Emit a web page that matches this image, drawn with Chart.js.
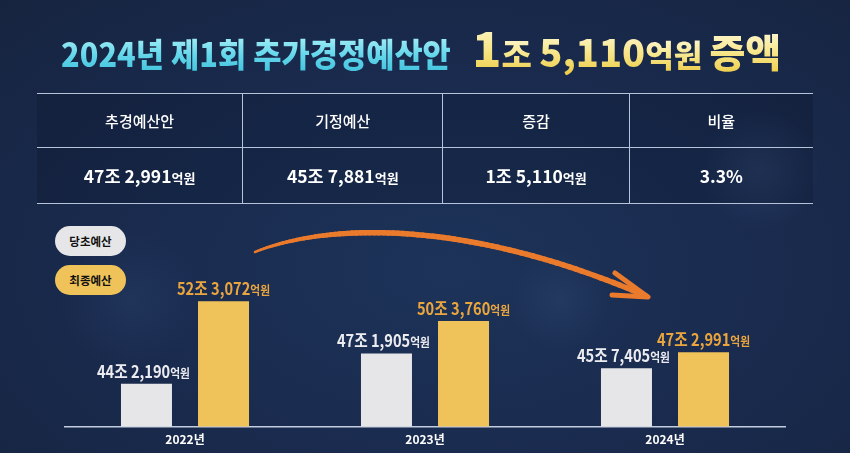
<!DOCTYPE html>
<html><head><meta charset="utf-8">
<script src="https://cdn.jsdelivr.net/npm/chart.js@4.4.1/dist/chart.umd.min.js"></script>
<style>
html,body{margin:0;padding:0;}
body{width:850px;height:453px;overflow:hidden;position:relative;font-family:"Noto Sans CJK KR","Noto Sans",sans-serif;
background:
 radial-gradient(circle at 760px 170px, rgba(80,110,160,0.25) 0, rgba(80,110,160,0) 60px),
 radial-gradient(circle at 130px 300px, rgba(60,90,140,0.18) 0, rgba(60,90,140,0) 70px),
 radial-gradient(circle at 560px 300px, rgba(70,100,150,0.18) 0, rgba(70,100,150,0) 50px),
 radial-gradient(ellipse at 450px 270px, #1d3359 0, #192a4d 55%, #16243f 100%);}
#c{position:absolute;left:0;top:0;}
.title{position:absolute;left:61px;top:15px;white-space:nowrap;font-weight:900;line-height:1.3;}
.title span{display:inline-block;}
.cy{font-size:33px;transform:scaleX(0.93);transform-origin:0 50%;background:linear-gradient(180deg,#b4f4fa 0%,#62d6ea 55%,#3fc0dc 100%);-webkit-background-clip:text;background-clip:text;color:transparent;}
.yl{background:linear-gradient(180deg,#fffbe6 0%,#f8e890 50%,#eccb45 100%);-webkit-background-clip:text;background-clip:text;color:transparent;}
table{position:absolute;left:37px;top:93px;width:776px;border-collapse:collapse;background:rgba(12,22,44,0.28);color:#fff;}
td{border:1.5px solid #b7c3d8;text-align:center;padding:0;}
tr td:first-child{border-left:none;} tr td:last-child{border-right:none;}
.th{font-size:15px;font-weight:500;height:53px;}
.tv{font-size:17.5px;font-weight:700;height:55px;}
.tv small{font-size:13px;}
.pill{position:absolute;left:55px;width:71px;height:30px;border-radius:15px;font-size:11.5px;font-weight:700;color:#111;text-align:center;line-height:30px;}
</style></head>
<body>
<canvas id="c" width="850" height="453"></canvas>
<div class="title" id="title"></div>
<table id="tbl"></table>
<div id="legend"></div>
<script>
const years = ['2022년', '2023년', '2024년'];
const seriesLabels = ['당초예산', '최종예산'];
const initialBudget = [442190, 471905, 457405];   // 억원
const finalBudget = [523072, 503760, 472991];     // 억원
const tableHeaders = ['추경예산안', '기정예산', '증감', '비율'];
const tableAmounts = [472991, 457881, 15110];     // 억원
const tableRatio = '3.3%';
const barColors = ['#e6e6e8', '#f0c35a'];
const labelColors = ['#ececf0', '#eaa53e'];

function parts(v){
  const jo = Math.floor(v/10000), eok = v%10000;
  return [jo + '조 ' + eok.toLocaleString('en-US'), '억원'];
}

// Title
document.getElementById('title').innerHTML =
  '<span class="cy">2024년 제1회 추가경정예산안</span>' +
  '<span class="yl" style="margin-left:-8px;font-size:48px;">1</span>' +
  '<span class="yl" style="font-size:33px;">조&nbsp;</span>' +
  '<span class="yl" style="font-size:38px;">5,110</span>' +
  '<span class="yl" style="font-size:31px;">억원&nbsp;</span>' +
  '<span class="yl" style="font-size:39px;">증액</span>';

// Table
const tbl = document.getElementById('tbl');
let h = '<tr>' + tableHeaders.map((t,i)=>'<td class="th" style="width:'+[206,200,186,184][i]+'px">'+t+'</td>').join('') + '</tr><tr>';
h += tableAmounts.map(v=>{const p=parts(v);return '<td class="tv">'+p[0]+'<small>'+p[1]+'</small></td>';}).join('');
h += '<td class="tv">'+tableRatio+'</td></tr>';
tbl.innerHTML = h;

// Legend
document.getElementById('legend').innerHTML = seriesLabels.map((l,i)=>
  '<div class="pill" style="top:'+(226+i*38.5)+'px;background:'+barColors[i]+'">'+l+'</div>').join('');

const valueLabels = {
  id:'valueLabels',
  afterDatasetsDraw(chart){
    const ctx = chart.ctx;
    chart.data.datasets.forEach((ds,di)=>{
      const meta = chart.getDatasetMeta(di);
      meta.data.forEach((el,i)=>{
        const p = parts(ds.raw[i]);
        const sx = 0.86;
        ctx.save();
        ctx.fillStyle = labelColors[di];
        ctx.textBaseline = 'alphabetic';
        ctx.font = '700 17px "Noto Sans CJK KR"';
        const w1 = ctx.measureText(p[0]).width;
        ctx.font = '700 12.5px "Noto Sans CJK KR"';
        const w2 = ctx.measureText(p[1]).width;
        const tw = (w1+w2)*sx;
        ctx.translate(el.x - tw/2 - (di===0?3:0), el.y - 6);
        ctx.scale(sx,1);
        ctx.font = '700 17px "Noto Sans CJK KR"';
        ctx.fillText(p[0],0,0);
        ctx.font = '700 12.5px "Noto Sans CJK KR"';
        ctx.fillText(p[1],w1,0);
        ctx.restore();
      });
    });
  }
};

const arrow = {
  id:'arrow',
  afterDraw(chart){
    const ctx = chart.ctx;
    const P0=[255,252],P1=[330,222],P2=[470,220],P3=[646,296];
    const pt=t=>{const u=1-t;return [u*u*u*P0[0]+3*u*u*t*P1[0]+3*u*t*t*P2[0]+t*t*t*P3[0],u*u*u*P0[1]+3*u*u*t*P1[1]+3*u*t*t*P2[1]+t*t*t*P3[1]];};
    ctx.save();
    ctx.strokeStyle='#ea7a2c';ctx.lineCap='round';ctx.lineJoin='round';
    const N=80;
    for(let k=0;k<N;k++){
      const t0=k/N,t1=(k+1)/N;
      const a=pt(t0),b=pt(t1);
      ctx.lineWidth = 2.5 + 3*Math.min(1,t0*3);
      ctx.beginPath();ctx.moveTo(a[0],a[1]);ctx.lineTo(b[0],b[1]);ctx.stroke();
    }
    ctx.lineWidth=5;
    ctx.beginPath();ctx.moveTo(615,273);ctx.lineTo(648,297);ctx.lineTo(612,295);ctx.stroke();
    ctx.restore();
  }
};

new Chart(document.getElementById('c'), {
  type:'bar',
  data:{
    labels: years,
    datasets:[
      {label:seriesLabels[0], raw:initialBudget, data:initialBudget.map(v=>v/10000), backgroundColor:barColors[0]},
      {label:seriesLabels[1], raw:finalBudget, data:finalBudget.map(v=>v/10000), backgroundColor:barColors[1]}
    ]
  },
  options:{
    responsive:false, animation:false,
    layout:{padding:{left:65,right:65,top:220,bottom:0}},
    categoryPercentage:0.642, barPercentage:0.662,
    plugins:{legend:{display:false},tooltip:{enabled:false}},
    scales:{
      x:{grid:{display:false,drawTicks:false},border:{display:true,color:'#c3cde0',width:1.5},
         ticks:{color:'#ffffff',padding:6,font:{family:'"Noto Sans CJK KR"',size:12,weight:'700'}}},
      y:{display:false,min:40,max:60.3}
    }
  },
  plugins:[valueLabels, arrow]
});
</script>
</body></html>
